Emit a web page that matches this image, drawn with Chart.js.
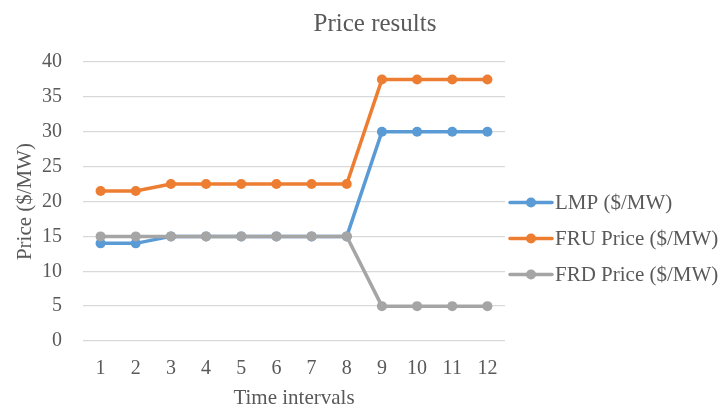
<!DOCTYPE html>
<html>
<head>
<meta charset="utf-8">
<script src="https://cdn.jsdelivr.net/npm/chart.js@4/dist/chart.umd.min.js"></script>
<style>
  html, body { margin: 0; padding: 0; background: #ffffff; }
  #wrap { width: 724px; height: 406px; }
</style>
</head>
<body>
<div id="wrap"><canvas id="chart" width="724" height="406"></canvas></div>
<script>
// Time intervals and price series ($/MW)
const intervals = ['1', '2', '3', '4', '5', '6', '7', '8', '9', '10', '11', '12'];
const lmpPrice = [14, 14, 15, 15, 15, 15, 15, 15, 30, 30, 30, 30];
const fruPrice = [21.5, 21.5, 22.5, 22.5, 22.5, 22.5, 22.5, 22.5, 37.5, 37.5, 37.5, 37.5];
const frdPrice = [15, 15, 15, 15, 15, 15, 15, 15, 5, 5, 5, 5];
const seriesNames = ['LMP ($/MW)', 'FRU Price ($/MW)', 'FRD Price ($/MW)'];
const seriesColors = ['#5B9BD5', '#ED7D31', '#A5A5A5'];

const SERIF = "'Liberation Serif', 'Times New Roman', serif";
const TEXT = '#595959';

function lineSet(i, data, order) {
  return {
    label: seriesNames[i],
    data: data,
    borderColor: seriesColors[i],
    backgroundColor: seriesColors[i],
    borderWidth: 3.5,
    pointRadius: 5,
    pointHoverRadius: 5,
    pointBorderWidth: 0,
    tension: 0,
    order: order
  };
}

// Legend as a layout box on the right: sample line with marker, then series name
const sideLegend = {
  id: 'sideLegend',
  beforeInit(chart) {
    const box = {
      position: 'right',
      weight: 0,
      fullSize: false,
      options: { stackWeight: 1 },
      left: 0, top: 0, right: 0, bottom: 0, width: 0, height: 0,
      isHorizontal() { return false; },
      update(maxWidth, maxHeight) { this.width = 219; this.height = maxHeight; },
      draw(area) {
        const ctx = chart.ctx;
        const x0 = this.left + 5, x1 = this.left + 47, textX = this.left + 50;
        const rowGap = 36;
        const midY = (area.top + area.bottom) / 2 + 37;
        const sets = chart.data.datasets;
        ctx.save();
        sets.forEach((ds, i) => {
          const y = midY + (i - (sets.length - 1) / 2) * rowGap;
          ctx.strokeStyle = ds.borderColor;
          ctx.lineWidth = 3.5;
          ctx.lineCap = 'round';
          ctx.beginPath();
          ctx.moveTo(x0, y);
          ctx.lineTo(x1, y);
          ctx.stroke();
          ctx.fillStyle = ds.borderColor;
          ctx.beginPath();
          ctx.arc((x0 + x1) / 2, y, 5, 0, Math.PI * 2);
          ctx.fill();
          ctx.fillStyle = TEXT;
          ctx.font = '21px ' + SERIF;
          ctx.textAlign = 'left';
          ctx.textBaseline = 'middle';
          ctx.fillText(ds.label, textX, y + 1);
        });
        ctx.restore();
      }
    };
    Chart.layouts.addBox(chart, box);
  }
};

new Chart(document.getElementById('chart'), {
  type: 'line',
  data: {
    labels: intervals,
    datasets: [
      lineSet(0, lmpPrice, 3),
      lineSet(1, fruPrice, 2),
      lineSet(2, frdPrice, 1)
    ]
  },
  options: {
    responsive: false,
    animation: false,
    layout: { padding: { left: 26, right: 0, top: 0, bottom: 0 } },
    plugins: {
      legend: { display: false },
      tooltip: { enabled: false },
      title: {
        display: true,
        text: 'Price results',
        color: TEXT,
        font: { family: SERIF, size: 25, weight: 'normal' },
        padding: { top: 9, bottom: 23 }
      }
    },
    scales: {
      x: {
        offset: true,
        grid: { display: false, drawTicks: false },
        border: { display: false },
        ticks: { color: TEXT, font: { family: SERIF, size: 20 }, padding: 16, maxRotation: 0 },
        title: {
          display: true,
          text: 'Time intervals',
          color: TEXT,
          font: { family: SERIF, size: 21 },
          padding: { top: -11.6, bottom: -4.6 }
        }
      },
      y: {
        min: 0,
        max: 40,
        ticks: { stepSize: 5, color: TEXT, font: { family: SERIF, size: 20 }, padding: 21 },
        grid: { color: '#D9D9D9', lineWidth: 1.3, drawTicks: false },
        border: { display: false },
        title: {
          display: true,
          text: 'Price ($/MW)',
          color: TEXT,
          font: { family: SERIF, size: 21 },
          padding: { top: -13.6, bottom: -16.6 }
        }
      }
    }
  },
  plugins: [sideLegend]
});
</script>
</body>
</html>
